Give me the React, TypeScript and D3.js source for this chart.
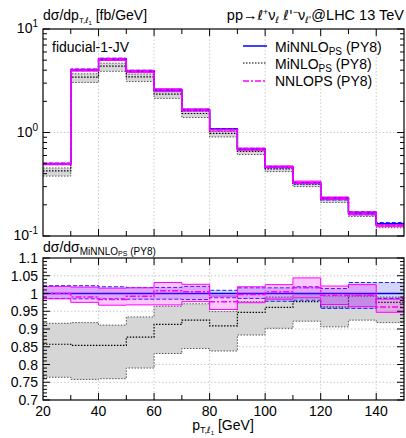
import React from "react";
import * as d3 from "d3";

// bin edges in p_T,l1 [GeV]
const binEdges = [20, 30, 40, 50, 60, 70, 80, 90, 100, 110, 120, 130, 140, 150];

// MiNNLO_PS (PY8) central value, fb/GeV
const minnloXs = [0.496, 4.02, 5.13, 3.93, 2.57, 1.65, 1.08, 0.693, 0.464, 0.325, 0.233, 0.167, 0.131];
// ratios to MiNNLO central
const minnloUp = [1.022, 1.022, 1.019, 1.017, 1.017, 1.02, 1.009, 1.016, 1.016, 1.019, 1.014, 1.031, 1.031];
const minnloDown = [0.986, 0.985, 0.985, 0.984, 0.984, 0.983, 0.988, 0.986, 0.978, 0.981, 0.958, 0.958, 0.986];

const minloRatio = [0.857, 0.854, 0.854, 0.877, 0.913, 0.925, 0.909, 0.947, 0.961, 0.977, 0.962, 0.993, 0.975];
const minloUp = [0.916, 0.918, 0.911, 0.934, 0.964, 0.971, 0.949, 0.977, 0.99, 1.0, 0.993, 1.0, 0.99];
const minloDown = [0.764, 0.758, 0.76, 0.79, 0.831, 0.845, 0.838, 0.883, 0.902, 0.922, 0.906, 0.925, 0.918];

const nnlopsRatio = [1.0, 0.99, 0.983, 0.992, 1.008, 1.005, 0.977, 0.997, 1.005, 1.016, 0.995, 0.995, 0.962];
const nnlopsUp = [1.02, 1.018, 1.015, 1.016, 1.031, 1.026, 0.993, 1.019, 1.025, 1.044, 1.021, 1.025, 0.984];
const nnlopsDown = [0.985, 0.975, 0.967, 0.968, 0.968, 0.977, 0.955, 0.974, 0.984, 0.988, 0.969, 0.963, 0.947];

const xTickLabels = [20, 40, 60, 80, 100, 120, 140];
const ratioTicks = ["0.7", "0.75", "0.8", "0.85", "0.9", "0.95", "1", "1.05", "1.1"];

const FONT = "Liberation Sans, Arial, Helvetica, sans-serif";
const ELL = "DejaVu Sans, sans-serif"; // has the script l

const L = 43, R = 404;
const topT = 29, topB = 236;
const botT = 258, botB = 400;

const x = d3.scaleLinear().domain([20, 150]).range([L, R]);
const yTop = d3.scaleLog().domain([0.1, 10]).range([topB, topT]);
const yBot = d3.scaleLinear().domain([0.7, 1.1]).range([botB, botT]);

// extend a per-bin array onto the edges for step curves
const stepPts = (vals: number[]) => binEdges.map((e, i) => [e, vals[Math.min(i, vals.length - 1)]] as [number, number]);
const mul = (a: number[], b: number[]) => a.map((v, i) => v * b[i]);

function stepLine(vals: number[], y: any) {
  return d3.line<[number, number]>()
    .x(d => x(d[0]))
    .y(d => y(d[1]))
    .curve(d3.curveStepAfter)(stepPts(vals)) as string;
}

function stepArea(lo: number[], hi: number[], y: any) {
  const pts = binEdges.map((e, i) => {
    const k = Math.min(i, lo.length - 1);
    return { e, lo: lo[k], hi: hi[k] };
  });
  return d3.area<any>()
    .x(d => x(d.e))
    .y0(d => y(d.lo))
    .y1(d => y(d.hi))
    .curve(d3.curveStepAfter)(pts) as string;
}

function Series({ y, ones, scaleBy }: { y: any; ones: boolean; scaleBy: number[] }) {
  const s = (a: number[]) => (ones ? a : mul(a, scaleBy));
  const unit = minnloXs.map(() => 1);
  return (
    <g>
      {/* MiNLO */}
      <path d={stepArea(s(minloDown), s(minloUp), y)} fill="#d6d6d6" stroke="none" />
      <path d={stepLine(s(minloUp), y)} fill="none" stroke="#555" strokeWidth={1} strokeDasharray="1.5,1.5" />
      <path d={stepLine(s(minloDown), y)} fill="none" stroke="#555" strokeWidth={1} strokeDasharray="1.5,1.5" />
      <path d={stepLine(s(minloRatio), y)} fill="none" stroke="#000" strokeWidth={1.2} strokeDasharray="1.5,1.5" />
      {/* MiNNLO */}
      <path d={stepArea(s(minnloDown), s(minnloUp), y)} fill="rgba(60,60,255,0.22)" stroke="none" />
      <path d={stepLine(s(minnloUp), y)} fill="none" stroke="#2020ff" strokeWidth={1} strokeDasharray="4,2" />
      <path d={stepLine(s(minnloDown), y)} fill="none" stroke="#2020ff" strokeWidth={1} strokeDasharray="4,2" />
      <path d={stepLine(s(unit), y)} fill="none" stroke="#0000ff" strokeWidth={1.5} />
      {/* NNLOPS */}
      <path d={stepArea(s(nnlopsDown), s(nnlopsUp), y)} fill="rgba(255,0,255,0.22)" stroke="none" />
      <path d={stepLine(s(nnlopsUp), y)} fill="none" stroke="#ff00ff" strokeWidth={1} />
      <path d={stepLine(s(nnlopsDown), y)} fill="none" stroke="#ff00ff" strokeWidth={1} />
      <path d={stepLine(s(nnlopsRatio), y)} fill="none" stroke="#ff00ff" strokeWidth={1.5} strokeDasharray="6,2,2,2" />
    </g>
  );
}

function XTicks({ top, bottom }: { top: number; bottom: number }) {
  const ticks = binEdges.slice(1, -1);
  return (
    <g stroke="#000" strokeWidth={1}>
      {ticks.map(t => {
        const len = t % 20 === 0 ? 7 : 5;
        return (
          <g key={t}>
            <line x1={x(t)} x2={x(t)} y1={bottom} y2={bottom - len} />
            <line x1={x(t)} x2={x(t)} y1={top} y2={top + len} />
          </g>
        );
      })}
    </g>
  );
}

function XGrid({ top, bottom }: { top: number; bottom: number }) {
  return (
    <g stroke="#bbb" strokeWidth={0.8} strokeDasharray="1.5,2">
      {xTickLabels.slice(1).map(t => (
        <line key={t} x1={x(t)} x2={x(t)} y1={top} y2={bottom} />
      ))}
    </g>
  );
}

export default function App() {
  const logMinor: number[] = [];
  [0.1, 1].forEach(d => [2, 3, 4, 5, 6, 7, 8, 9].forEach(m => logMinor.push(d * m)));
  const ratioMinor = d3.range(0, 41).map(i => 0.7 + i * 0.01);

  return (
    <svg width={406} height={438} style={{ position: "absolute", left: 0, top: 0 }} fontFamily={FONT}>
      <defs>
        <clipPath id="clipTop"><rect x={L} y={topT} width={R - L} height={topB - topT} /></clipPath>
        <clipPath id="clipBot"><rect x={L} y={botT} width={R - L} height={botB - botT} /></clipPath>
      </defs>
      <rect width={406} height={438} fill="#fff" />

      {/* ---------- top panel ---------- */}
      <XGrid top={topT} bottom={topB} />
      <line x1={L} x2={R} y1={yTop(1)} y2={yTop(1)} stroke="#bbb" strokeWidth={0.8} strokeDasharray="1.5,2" />
      <g clipPath="url(#clipTop)">
        <Series y={yTop} ones={false} scaleBy={minnloXs} />
      </g>
      <rect x={L} y={topT} width={R - L} height={topB - topT} fill="none" stroke="#000" strokeWidth={1.2} />
      <XTicks top={topT} bottom={topB} />
      <g stroke="#000">
        {[0.1, 1, 10].map(v => (
          <g key={v}>
            <line x1={L} x2={L + 7} y1={yTop(v)} y2={yTop(v)} />
            <line x1={R} x2={R - 7} y1={yTop(v)} y2={yTop(v)} />
          </g>
        ))}
        {logMinor.map(v => (
          <g key={v}>
            <line x1={L} x2={L + 4} y1={yTop(v)} y2={yTop(v)} />
            <line x1={R} x2={R - 4} y1={yTop(v)} y2={yTop(v)} />
          </g>
        ))}
      </g>
      <g fontSize={14} textAnchor="end" fill="#000">
        {[[10, "1"], [1, "0"], [0.1, "-1"]].map(([v, e]) => (
          <text key={String(e)} x={L - 5} y={yTop(v as number) + 4}>
            10<tspan dy={-6} fontSize={10}>{e}</tspan>
          </text>
        ))}
      </g>

      <text x={L} y={20} fontSize={14}>
        dσ/dp<tspan fontSize={8} dy={3}>T,</tspan><tspan fontSize={8} fontFamily={ELL}>ℓ</tspan>
        <tspan fontSize={6} dy={2}>1</tspan>
        <tspan dy={-5}> [fb/GeV]</tspan>
      </text>
      <text x={R} y={20} fontSize={14.5} textAnchor="end">
        pp→<tspan fontFamily={ELL} fontSize={13.5}>ℓ</tspan><tspan fontSize={9} dy={-5}>+</tspan>
        <tspan dy={5}>ν</tspan><tspan fontSize={9} dy={3} fontFamily={ELL}>ℓ</tspan>
        <tspan dy={-3}> </tspan><tspan fontFamily={ELL} fontSize={13.5}>ℓ'</tspan>
        <tspan fontSize={9} dy={-5}>−</tspan><tspan dy={5}>ν</tspan>
        <tspan fontSize={9} dy={3} fontFamily={ELL}>ℓ'</tspan><tspan dy={-3}>@LHC 13 TeV</tspan>
      </text>
      <text x={52} y={52} fontSize={14}>fiducial-1-JV</text>

      {/* legend */}
      <g fontSize={14}>
        <line x1={243} x2={267} y1={46} y2={46} stroke="#0000ff" strokeWidth={1.5} />
        <text x={275} y={52}>MiNNLO<tspan fontSize={10} dy={3}>PS</tspan><tspan dy={-3}> (PY8)</tspan></text>
        <line x1={243} x2={267} y1={63} y2={63} stroke="#000" strokeWidth={1.2} strokeDasharray="1.5,1.5" />
        <text x={275} y={69}>MiNLO<tspan fontSize={10} dy={3}>PS</tspan><tspan dy={-3}> (PY8)</tspan></text>
        <line x1={243} x2={267} y1={81} y2={81} stroke="#ff00ff" strokeWidth={1.5} strokeDasharray="6,2,2,2" />
        <text x={275} y={86}>NNLOPS (PY8)</text>
      </g>

      {/* ---------- ratio panel ---------- */}
      <text x={L} y={252} fontSize={14}>
        dσ/dσ<tspan fontSize={10} dy={3}>MiNNLO</tspan><tspan fontSize={7} dy={1}>PS</tspan>
        <tspan fontSize={10} dy={-1}> (PY8)</tspan>
      </text>
      <XGrid top={botT} bottom={botB} />
      <g stroke="#bbb" strokeWidth={0.8} strokeDasharray="1.5,2">
        {ratioTicks.slice(1, -1).map(t => (
          <line key={t} x1={L} x2={R} y1={yBot(+t)} y2={yBot(+t)} />
        ))}
      </g>
      <g clipPath="url(#clipBot)">
        <Series y={yBot} ones={true} scaleBy={minnloXs} />
      </g>
      <rect x={L} y={botT} width={R - L} height={botB - botT} fill="none" stroke="#000" strokeWidth={1.2} />
      <XTicks top={botT} bottom={botB} />
      <g stroke="#000">
        {ratioMinor.map((v, i) => {
          const len = i % 5 === 0 ? 7 : 4;
          return (
            <g key={i}>
              <line x1={L} x2={L + len} y1={yBot(v)} y2={yBot(v)} />
              <line x1={R} x2={R - len} y1={yBot(v)} y2={yBot(v)} />
            </g>
          );
        })}
      </g>
      <g fontSize={14} textAnchor="end">
        {ratioTicks.map(t => (
          <text key={t} x={L - 5} y={yBot(+t) + 5}>{t}</text>
        ))}
      </g>
      <g fontSize={14} textAnchor="middle">
        {xTickLabels.map(t => (
          <text key={t} x={x(t)} y={416}>{t}</text>
        ))}
      </g>
      <text x={223} y={430} fontSize={14} textAnchor="middle">
        p<tspan fontSize={9} dy={3}>T,</tspan><tspan fontSize={9} fontFamily={ELL}>ℓ</tspan>
        <tspan fontSize={6} dy={2}>1</tspan>
        <tspan dy={-5}> [GeV]</tspan>
      </text>
    </svg>
  );
}
